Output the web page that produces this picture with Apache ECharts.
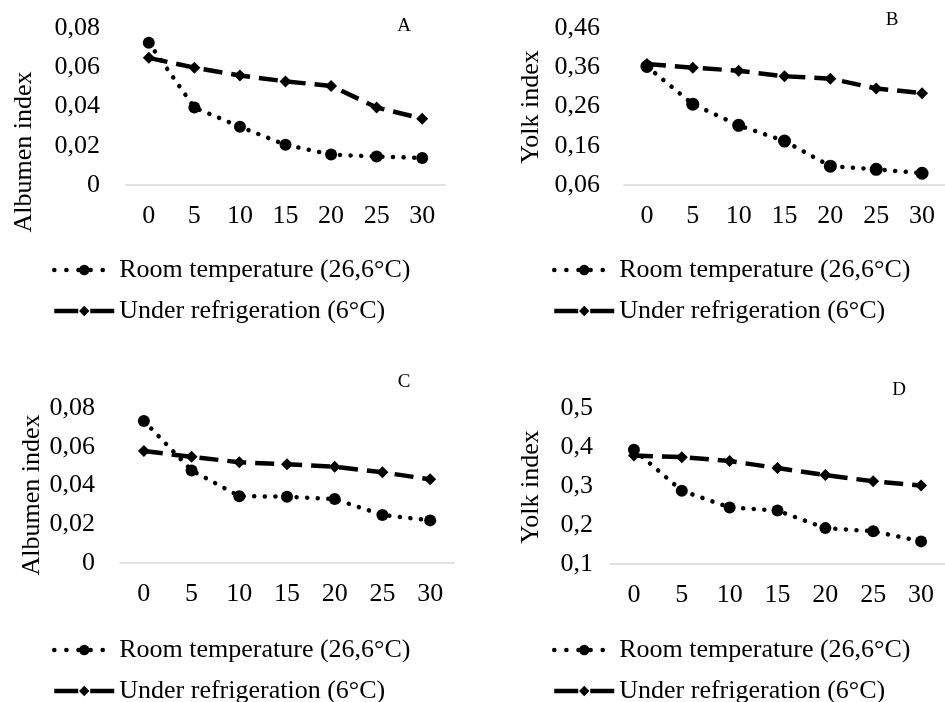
<!DOCTYPE html>
<html><head><meta charset="utf-8">
<script src="https://cdn.jsdelivr.net/npm/echarts@6/dist/echarts.min.js"></script>
<style>html,body{margin:0;padding:0;background:#fff}#c{width:945px;height:702px}</style>
</head><body><div id="c"></div>
<script>
const days = ['0','5','10','15','20','25','30'];
const roomA = [0.0725, 0.0395, 0.0297, 0.0205, 0.0155, 0.0145, 0.0138];
const fridgeA = [0.0648, 0.0598, 0.0558, 0.0528, 0.0505, 0.0395, 0.0338];
const roomB = [0.362, 0.266, 0.212, 0.172, 0.108, 0.100, 0.090];
const fridgeB = [0.368, 0.359, 0.351, 0.337, 0.331, 0.306, 0.294];
const roomC = [0.0733, 0.0478, 0.0345, 0.0342, 0.0330, 0.0248, 0.0220];
const fridgeC = [0.0578, 0.0548, 0.0520, 0.0510, 0.0497, 0.0468, 0.0432];
const roomD = [0.393, 0.288, 0.245, 0.237, 0.192, 0.184, 0.158];
const fridgeD = [0.378, 0.374, 0.364, 0.346, 0.328, 0.312, 0.301];
const ticksA = [0, 0.02, 0.04, 0.06, 0.08];
const ticksB = [0.06, 0.16, 0.26, 0.36, 0.46];
const ticksC = [0, 0.02, 0.04, 0.06, 0.08];
const ticksD = [0.1, 0.2, 0.3, 0.4, 0.5];
const roomName = 'Room temperature (26,6°C)';
const fridgeName = 'Under refrigeration (6°C)';
const yNames = ['Albumen index', 'Yolk index', 'Albumen index', 'Yolk index'];
const letters = ['A', 'B', 'C', 'D'];

const FONT = 'Liberation Serif';
const chart = echarts.init(document.getElementById('c'));

const grids = [
  {left: 126, right: 500, top: 28, bottom: 517},
  {left: 624, right: -9, top: 28, bottom: 517},
  {left: 120, right: 491, top: 408, bottom: 139},
  {left: 610, right: -9, top: 408, bottom: 138}
];
const yLabelMargin = [26, 24, 25, 17];
const tickSets = [ticksA, ticksB, ticksC, ticksD];
const decimals = [2, 2, 2, 1];
const rooms = [roomA, roomB, roomC, roomD];
const fridges = [fridgeA, fridgeB, fridgeC, fridgeD];

function fmt(v, d) {
  if (Math.abs(v) < 1e-9) return '0';
  return v.toFixed(d).replace('.', ',');
}

const xAxis = [], yAxis = [], series = [], legend = [];
for (let i = 0; i < 4; i++) {
  const t = tickSets[i];
  xAxis.push({
    type: 'category', gridIndex: i, data: days, boundaryGap: true,
    axisLine: {show: true, lineStyle: {color: '#d9d9d9', width: 1.5}},
    axisTick: {show: false},
    axisLabel: {color: '#000', fontFamily: FONT, fontSize: 26, margin: 18}
  });
  yAxis.push({
    type: 'value', gridIndex: i, min: t[0], max: t[t.length - 1],
    axisLine: {show: false}, axisTick: {show: false}, splitLine: {show: false},
    axisLabel: {
      color: '#000', fontFamily: FONT, fontSize: 26, margin: yLabelMargin[i],
      customValues: t,
      formatter: (v) => fmt(v, decimals[i])
    }
  });
  series.push({
    name: roomName, type: 'line', xAxisIndex: i, yAxisIndex: i, data: rooms[i],
    symbol: 'circle', symbolSize: i === 1 ? 13 : 12, z: 3,
    itemStyle: {color: '#000'},
    lineStyle: {color: '#000', width: 4.5, type: [0.1, 10.5], cap: 'round'}
  });
  series.push({
    name: fridgeName, type: 'line', xAxisIndex: i, yAxisIndex: i, data: fridges[i],
    symbol: 'diamond', symbolSize: 12, z: 2,
    itemStyle: {color: '#000'},
    lineStyle: {color: '#000', width: 4.5, type: [19, 9]}
  });
}

const legendPos = [
  {left: 47, top: 252},
  {left: 547, top: 252},
  {left: 47, top: 632},
  {left: 547, top: 632}
];
for (let i = 0; i < 4; i++) {
  legend.push({
    data: [
      {name: roomName, lineStyle: {width: 4.5, type: [0.1, 12], cap: 'round'}},
      {name: fridgeName, lineStyle: {width: 4.5, type: [24, 12], cap: 'butt'}}
    ],
    orient: 'vertical',
    left: legendPos[i].left, top: legendPos[i].top, height: 120, width: 400,
    itemWidth: 60, itemHeight: 13, itemGap: 15,
    selectedMode: false,
    textStyle: {color: '#000', fontFamily: FONT, fontSize: 26}
  });
}

const namePos = [[24, 152], [531, 107], [32, 495], [531, 487]];
const letterPos = [[404, 26], [892, 20], [404, 382], [899, 390]];
const graphic = [];
for (let i = 0; i < 4; i++) {
  graphic.push({
    type: 'text', x: namePos[i][0], y: namePos[i][1], rotation: Math.PI / 2,
    style: {text: yNames[i], fill: '#000', font: '26px "' + FONT + '"', align: 'center', verticalAlign: 'middle'}
  });
  graphic.push({
    type: 'text', x: letterPos[i][0], y: letterPos[i][1],
    style: {text: letters[i], fill: '#000', font: '19px "' + FONT + '"', align: 'center', verticalAlign: 'middle'}
  });
}

chart.setOption({
  backgroundColor: '#fff',
  animation: false,
  grid: grids, xAxis, yAxis, series, legend, graphic
});
</script></body></html>
